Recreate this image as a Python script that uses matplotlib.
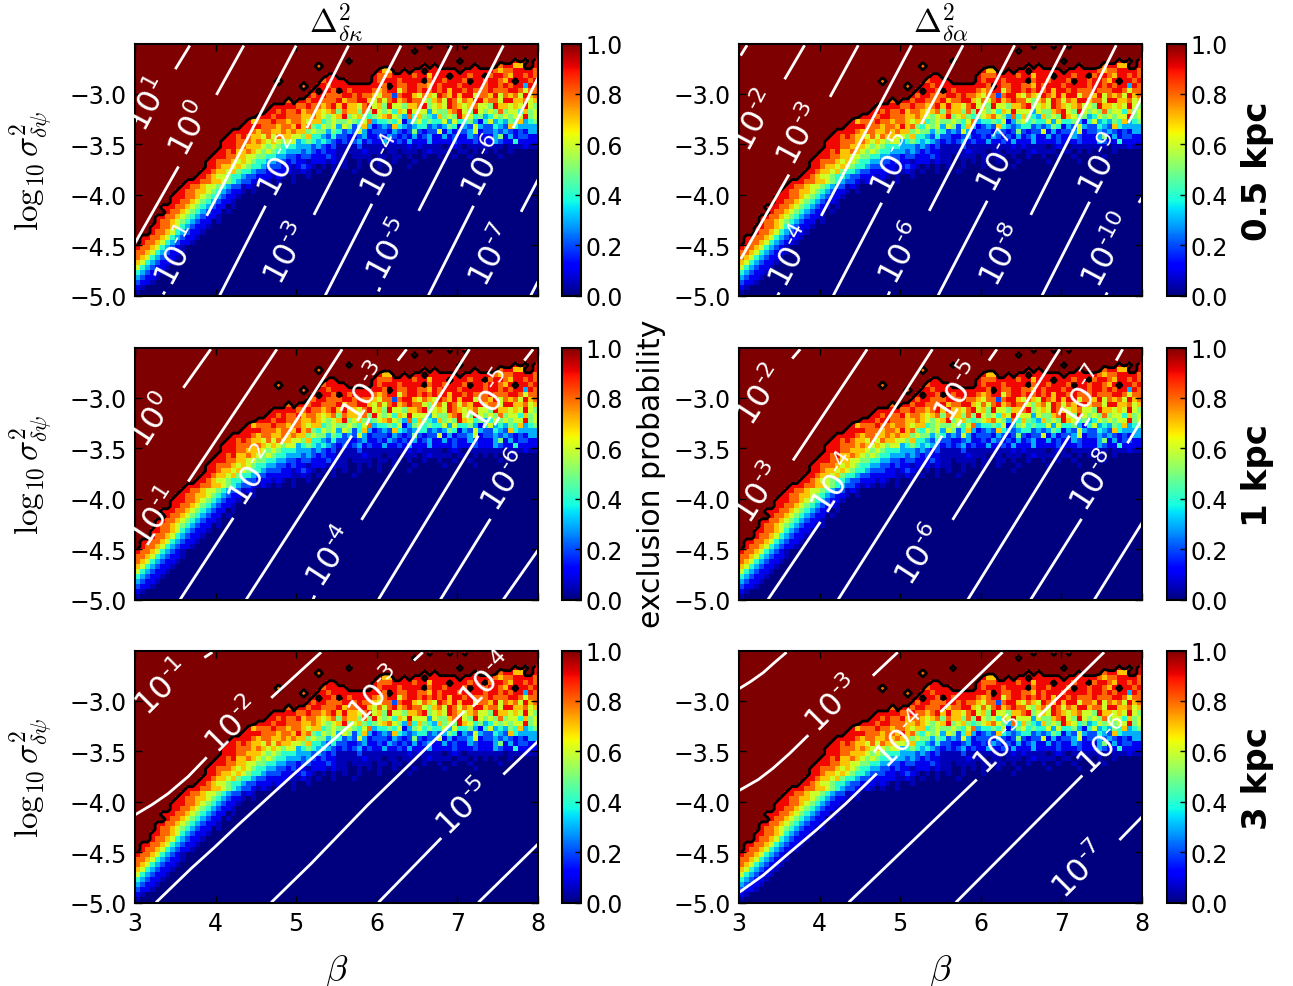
import numpy as np
import matplotlib
matplotlib.use('Agg')
import matplotlib.pyplot as plt

plt.rcParams['font.family'] = ['DejaVu Sans']
plt.rcParams['mathtext.fontset'] = 'cm'

# exclusion probability, top row first
# A = 1.0, digit = tenths, a = 0.05; short rows carry on with zeros
A10 = 'AAAAAAAAAA'
prob_rows = [
    A10*5 + 'AAAAAAAA9A AA9AA9AAAA' + A10,
    A10*5 + 'AAAAA9AAAA' + A10*2,
    A10*8,
    A10*4 + 'AA9AAAAAAA' + A10 + 'AAAA9AAAAA AAAAA9A9A9',
    A10*3 + 'AAAAAA8AAA' + A10 + 'AAAAAAA9A9 AAAAAAA9AA AA89977AA9',
    A10*4 + 'AAAAAAAA97 7AA9A99A99 9999A99999 9878899998',
    A10*3 + 'AAAAAAAA99 AAAAAAA988 8999989979 99A999899A 8998799898',
    A10*2 + 'AAAAAAAA8A AAAAAAA899 99AAAAA989 9989999A89 989998A998 99879A9989',
    A10*3 + 'AAA8AA9989 9999999998 A988998879 8999899998 9989899398',
    A10*3 + 'AAAAA9A998 A989999878 9968998989 8979989888 9888998688',
    A10*3 + 'AAAA989988 8998988768 8289976876 9879799688 7968786978',
    A10*3 + '8A99899888 9788997686 8978988657 8698687997 8869977867',
    A10*2 + 'AAAAAAA999 9988988789 7977689675 9665778956 7698767866 5977676965',
    A10*2 + 'AAAAAA9989 8897887678 5877585965 6476966636 5578965965 6585664756',
    A10*2 + 'AAAA999899 8887787656 7956754567 8653847543 7565976453 4656566956',
    A10*2 + 'AA97888988 7887677456 5565468344 5461356454 4636445314 6343547345',
    A10*2 + 'A999988878 8797854656 3652473123 2743234423 2354132632 2432743333',
    A10 + 'AAAAAAAAA9 9998788778 7877565535 4232631222 1321252122 6131223612 2323212133',
    A10 + 'AAAAAAAA99 8987768687 7665744324 2211231121 3212131231 1312113211 1351312211',
    A10 + 'AAAAAAA999 8887876765 6634543432 1212312113 1121311131 1112111211 1321141111',
    A10 + 'AAAAAAA999 8877765654 4433323212 aaaa2aaaaa aaaa1a1aaa a0a1a0aaaa aaa0aaa1aa',
    A10 + 'AAAAAA9989 7787656544 3332321211 aaaaa1aaa0 aa0aaa0a1a aaa0aa0a0a 0a00a00000',
    A10 + 'AAAAA99988 7766554433 2212211121 aa0aaaa0aa 0aa0a00a00 a00a00a000 00a0000000',
    A10 + 'AAAA998887 6765443322 1211a111a1 aa00a0a0a0 0a000a0000 0a00000a00',
    A10 + 'AAAA998776 7654432221 1a121a0a0a 0a00a000a0 0000a00000',
    A10 + 'AAA9987767 5443221111 1aa1a0a00a 000a000000',
    A10 + 'AA99876654 4322111a1a 0a00a00000',
    A10 + '9998877654 3221a1a0a0 0a',
    'AAAAAAAAA9 9887665432 2a1a',
    'AAAAAAAA99 8877654321 1a0a',
    'AAAAAAA999 8876543211 a0',
    'AAAAAAA998 876543211a',
    'AAAAA99988 765432110a',
    'AAAAAA9887 65432110a',
    'AAAA998876 543211a',
    'AAAA988765 432110a',
    'AAA9988764 3211a',
    'AAA9887643 211a',
    'A998876432 11a',
    'A988764321 1a',
    '988764321a',
    '887643211a',
    '87643211a',
    '7643211a',
    '643211a',
    '43211a',
    '3211a',
    '211a',
    '1a',
    'a',
]

# white contour pieces (beta list, log sigma list) and their labels
lines_kappa_05 = [
    ([3.50, 3.68], [-2.755, -2.52]), ([3.00, 3.03], [-3.28, -3.23]),
    ([4.01, 4.35], [-3.01, -2.52]), ([3.00, 3.54], [-4.48, -3.72]),
    ([3.89, 5.00], [-4.21, -2.52]), ([3.35, 3.37], [-4.99, -4.96]),
    ([5.13, 5.65], [-3.34, -2.52]), ([4.05, 4.62], [-5.00, -4.11]),
    ([5.22, 6.30], [-4.20, -2.52]),
    ([6.43, 6.93], [-3.30, -2.52]), ([5.36, 5.94], [-5.00, -4.09]),
    ([6.52, 7.57], [-4.16, -2.52]), ([6.02, 6.04], [-4.96, -4.92]),
    ([7.69, 8.00], [-3.34, -2.84]), ([6.64, 7.20], [-5.00, -4.11]),
    ([7.79, 8.00], [-4.17, -3.85]), ([7.91, 8.00], [-5.00, -4.86]),
]
labels_kappa_05 = [
    (3.19, -3.10, '1'), (3.70, -3.35, '0'), (3.54, -4.61, '-1'), (4.82, -3.72, '-2'),
    (4.90, -4.58, '-3'), (6.10, -3.72, '-4'), (6.18, -4.55, '-5'), (7.36, -3.72, '-6'),
    (7.44, -4.60, '-7'),
]
lines_alpha_05 = [
    ([3.02, 3.10], [-2.62, -2.517]), ([3.566, 3.814], [-2.855, -2.517]),
    ([4.13, 4.48], [-3.03, -2.517]), ([3.02, 3.62], [-4.64, -3.80]),
    ([4.02, 5.14], [-4.21, -2.517]), ([3.48, 3.50], [-5.00, -4.97]),
    ([5.26, 5.78], [-3.30, -2.517]), ([4.17, 4.77], [-5.00, -4.08]),
    ([5.36, 6.42], [-4.16, -2.517]), ([4.85, 4.87], [-5.00, -4.96]),
    ([6.56, 7.05], [-3.28, -2.517]), ([5.47, 6.08], [-5.00, -4.06]),
    ([6.62, 7.68], [-4.20, -2.517]),
    ([7.83, 8.00], [-3.29, -3.03]), ([6.76, 7.35], [-5.00, -4.07]),
    ([7.96, 8.00], [-4.08, -4.03]), ([7.55, 7.57], [-5.00, -4.97]),
]
labels_alpha_05 = [
    (3.21, -3.27, '-2'), (3.77, -3.40, '-3'), (3.67, -4.61, '-4'), (4.93, -3.70, '-5'),
    (5.03, -4.58, '-6'), (6.25, -3.67, '-7'), (6.29, -4.60, '-8'), (7.51, -3.70, '-9'),
    (7.60, -4.55, '-10'),
]
lines_kappa_1 = [
    ([3.60, 3.94], [-2.90, -2.517]),
    ([3.66, 4.76], [-3.83, -2.517]),
    ([4.81, 5.57], [-3.46, -2.517]),
    ([3.56, 4.22], [-5.00, -4.19]),
    ([4.38, 5.69], [-5.00, -3.375]), ([5.87, 5.91], [-3.27, -3.20]), ([6.26, 6.37], [-2.63, -2.517]),
    ([5.81, 7.15], [-4.21, -2.517]),
    ([6.02, 7.26], [-5.00, -3.375]), ([7.46, 7.52], [-3.27, -3.19]), ([7.83, 7.94], [-2.63, -2.517]),
    ([6.79, 7.41], [-5.00, -4.20]),
    ([7.57, 8.00], [-5.00, -4.51]),
    ([5.21, 5.23], [-5.00, -4.96]),
]
labels_kappa_1 = [
    (3.23, -3.22, '0'), (3.27, -4.18, '-1'), (4.47, -3.78, '-2'), (5.87, -2.95, '-3'),
    (5.44, -4.58, '-4'), (7.44, -3.02, '-5'), (7.61, -3.82, '-6'),
]
lines_alpha_1 = [
    ([3.66, 3.76], [-2.61, -2.517]),
    ([3.67, 4.59], [-3.62, -2.517]),
    ([4.61, 5.40], [-3.50, -2.517]),
    ([3.36, 4.01], [-5.00, -4.23]),
    ([4.23, 5.52], [-5.00, -3.375]), ([5.71, 5.76], [-3.28, -3.22]), ([6.10, 6.20], [-2.63, -2.517]),
    ([5.65, 6.98], [-4.21, -2.517]),
    ([5.84, 7.10], [-5.00, -3.375]), ([7.29, 7.35], [-3.28, -3.20]), ([7.68, 7.76], [-2.63, -2.517]),
    ([6.62, 7.25], [-5.00, -4.20]),
    ([7.41, 8.00], [-5.00, -4.24]),
    ([7.82, 8.00], [-3.45, -3.21]),
]
labels_alpha_1 = [
    (3.28, -2.97, '-2'), (3.26, -3.95, '-3'), (4.21, -3.85, '-4'), (5.74, -2.94, '-5'),
    (5.26, -4.56, '-6'), (7.29, -2.99, '-7'), (7.43, -3.82, '-8'),
]
lines_kappa_3 = [
    ([3.86, 3.96], [-2.57, -2.517]),
    ([3.00, 3.21, 3.41, 3.66, 3.89], [-4.13, -4.03, -3.92, -3.75, -3.56]),
    ([4.69, 5.31], [-2.97, -2.517]),
    ([3.26, 3.48, 3.70, 3.99, 4.28, 4.98, 5.71], [-5.00, -4.83, -4.66, -4.45, -4.23, -3.72, -3.21]),
    ([6.46, 6.57], [-2.60, -2.517]),
    ([4.69, 5.19, 5.89, 7.09], [-5.00, -4.61, -4.03, -3.10]),
    ([7.57, 8.00], [-3.73, -3.40]), ([6.02, 6.80], [-5.00, -4.36]),
    ([7.26, 8.00], [-5.00, -4.42]),
]
labels_kappa_3 = [
    (3.35, -2.87, '-1'), (4.22, -3.25, '-2'), (6.00, -2.95, '-3'), (7.38, -2.81, '-4'),
    (7.09, -4.06, '-5'),
]
lines_alpha_3 = [
    ([3.00, 3.15, 3.30, 3.44, 3.59], [-2.88, -2.805, -2.72, -2.62, -2.517]),
    ([3.00, 3.24, 3.42, 3.63, 3.86], [-3.89, -3.78, -3.67, -3.52, -3.34]),
    ([4.66, 4.97], [-2.75, -2.517]),
    ([3.00, 3.30, 3.59, 3.96, 4.33, 4.71], [-4.90, -4.73, -4.53, -4.28, -4.015, -3.72]),
    ([5.50, 6.27], [-3.11, -2.517]),
    ([4.36, 5.95], [-5.00, -3.78]), ([6.71, 7.53], [-3.16, -2.517]),
    ([5.69, 7.26], [-5.00, -3.74]),
    ([7.72, 8.00], [-4.38, -4.15]),
]
labels_alpha_3 = [
    (4.17, -3.04, '-3'), (5.03, -3.39, '-4'), (6.25, -3.45, '-5'), (7.55, -3.45, '-6'),
    (7.24, -4.68, '-7'),
]

x_ticks = [3, 4, 5, 6, 7, 8]
y_ticks = [-5.0, -4.5, -4.0, -3.5, -3.0]
cbar_ticks = [0.0, 0.2, 0.4, 0.6, 0.8, 1.0]
row_names = ['0.5 kpc', '1 kpc', '3 kpc']

panels = [
    [(lines_kappa_05, labels_kappa_05, 62), (lines_alpha_05, labels_alpha_05, 62)],
    [(lines_kappa_1, labels_kappa_1, 57), (lines_alpha_1, labels_alpha_1, 57)],
    [(lines_kappa_3, labels_kappa_3, 45), (lines_alpha_3, labels_alpha_3, 45)],
]

prob = np.zeros((50, 80))
levels = {'A': 1.0, 'a': 0.05}
for i, row in enumerate(prob_rows):
    row = row.replace(' ', '').ljust(80, '0')[:80]
    prob[i] = [levels[ch] if ch in levels else int(ch) / 10 for ch in row]
beta_c = 3 + (np.arange(80) + 0.5) * 5 / 80
y_c = -2.5 - (np.arange(50) + 0.5) * 2.5 / 50

W, H = 1293, 987
fig = plt.figure(figsize=(W / 100, H / 100), dpi=100)
col_left = [135, 739]
cbar_left = [562, 1167]
row_top = [44.5, 348.5, 651.5]
ax_w, ax_h = 403, 252


def px_axes(left, top, w, h):
    return fig.add_axes([left / W, 1 - (top + h) / H, w / W, h / H])


for r in range(3):
    for c in range(2):
        lines, labels, rot = panels[r][c]
        ax = px_axes(col_left[c], row_top[r], ax_w, ax_h)
        im = ax.imshow(prob, extent=[3, 8, -5, -2.5], aspect='auto', cmap='jet',
                       vmin=0, vmax=1, interpolation='nearest')
        ax.contour(beta_c, y_c, prob, levels=[0.95], colors='k', linewidths=2)
        for bx, by in lines:
            ax.plot(bx, by, color='w', lw=2, solid_capstyle='butt')
        for bx, by, power in labels:
            txt = '10$^{' + power.replace('-', r'\text{-}') + '}$'
            ax.text(bx, by, txt, color='w', fontsize=23, rotation=rot, ha='center',
                    va='center', rotation_mode='anchor', math_fontfamily='dejavusans')
        ax.set_xlim(3, 8)
        ax.set_ylim(-5, -2.5)
        ax.set_xticks(x_ticks)
        ax.set_yticks(y_ticks)
        ax.tick_params(direction='in', top=True, right=True, length=5, width=1,
                       labelsize=17, pad=6)
        if r < 2:
            ax.set_xticklabels([])
        else:
            ax.set_xlabel(r'$\beta$', fontsize=26)
            ax.xaxis.set_label_coords(0.5, -0.195)
        if c == 0:
            ax.set_ylabel(r'$\log_{10}\sigma^2_{\delta\psi}$', fontsize=24)
            ax.yaxis.set_label_coords(-0.2, 0.5)
        for s in ax.spines.values():
            s.set_linewidth(1.5)
        if r == 0:
            ax.set_title(r'$\Delta^2_{\delta\kappa}$' if c == 0 else r'$\Delta^2_{\delta\alpha}$',
                         fontsize=24, pad=0)

        cax = px_axes(cbar_left[c], row_top[r], 19, ax_h)
        cb = fig.colorbar(im, cax=cax)
        cb.set_ticks(cbar_ticks)
        cb.ax.tick_params(direction='in', length=4, width=1, labelsize=17, pad=3)
        cb.outline.set_linewidth(1.5)

    fig.text(1257 / W, 1 - (row_top[r] + ax_h / 2 + 1) / H, row_names[r], rotation=90,
             fontsize=24.5, fontweight='bold', ha='center', va='center')

fig.text(652 / W, 1 - 474 / H, 'exclusion probability', rotation=90, fontsize=21.5,
         ha='center', va='center')

fig.savefig('out.png', dpi=100)
